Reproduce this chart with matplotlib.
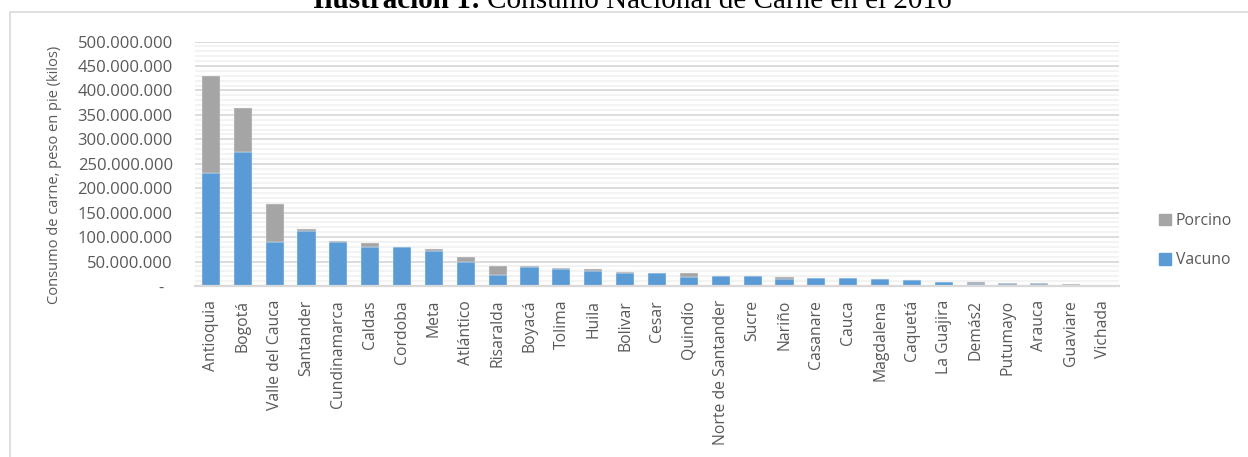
import numpy as np
import matplotlib
matplotlib.use("Agg")
import matplotlib.pyplot as plt
from matplotlib.patches import Rectangle, Patch
from matplotlib.ticker import MultipleLocator, FuncFormatter

# consumo por departamento, millones de kilos (peso en pie)
departamentos = ["Antioquia", "Bogotá", "Valle del Cauca", "Santander", "Cundinamarca",
                 "Caldas", "Cordoba", "Meta", "Atlántico", "Risaralda", "Boyacá", "Tolima",
                 "Huila", "Bolivar", "Cesar", "Quindío", "Norte de Santander", "Sucre",
                 "Nariño", "Casanare", "Cauca", "Magdalena", "Caquetá", "La Guajira",
                 "Demás2", "Putumayo", "Arauca", "Guaviare", "Vichada"]
vacuno = [232, 275, 89, 113, 89, 80, 80, 72, 50, 22.5, 39, 35.5, 31, 26.5, 26.5,
          18, 20.5, 21, 14, 16.5, 15.5, 14, 12, 8.5, 3.5, 5, 4.5, 2, 0.3]
porcino = [197, 90, 79, 4, 3, 8, 0.5, 4, 10, 19, 2, 2, 4, 1.5, 0.5,
           8, 0.5, 0.2, 5, 0.5, 0.8, 1, 1, 0.5, 4, 0.5, 1, 2, 0.2]

W, H = 1248, 457
gris_txt = "#595959"
fuente = "Open Sans"

fig = plt.figure(figsize=(W / 100, H / 100), dpi=100)
ax = fig.add_axes([195 / W, 1 - 286 / H, (1119 - 195) / W, (286 - 41.5) / H])

x = np.arange(len(departamentos))
v = np.array(vacuno) * 1e6
p = np.array(porcino) * 1e6
ax.bar(x, v, width=0.57, color="#5B9BD5", edgecolor="#EAF1FA", linewidth=0.3, zorder=3)
ax.bar(x, p, width=0.57, bottom=v, color="#A5A5A5", edgecolor="#EEEEEE", linewidth=0.3, zorder=3)

ax.set_xlim(-0.5, len(departamentos) - 0.5)
ax.set_ylim(0, 500e6)
ax.yaxis.set_major_locator(MultipleLocator(50e6))
ax.yaxis.set_minor_locator(MultipleLocator(10e6))
ax.yaxis.set_major_formatter(FuncFormatter(
    lambda val, pos: "-  " if val == 0 else f"{int(round(val)):,}".replace(",", ".")))
ax.grid(axis="y", which="minor", color="#F2F2F2", linewidth=1.3, zorder=0)
ax.grid(axis="y", which="major", color="#D9D9D9", linewidth=1.3, zorder=1)
ax.set_axisbelow(True)

for s in ["top", "right", "left"]:
    ax.spines[s].set_visible(False)
ax.spines["bottom"].set_color("#D9D9D9")
ax.spines["bottom"].set_linewidth(1.6)
ax.spines["bottom"].set_zorder(4)

ax.set_xticks(x)
ax.set_xticklabels(departamentos, rotation=90, fontsize=11.3, family=fuente, color=gris_txt)
ax.tick_params(axis="both", which="both", length=0)
ax.tick_params(axis="x", pad=10)
ax.tick_params(axis="y", pad=16)
for t in ax.get_yticklabels():
    t.set_fontsize(12)
    t.set_family(fuente)
    t.set_color(gris_txt)

fig.text(55 / W, 1 - 175 / H, "Consumo de carne, peso en pie (kilos)", rotation=90,
         ha="center", va="center", fontsize=10.5, family=fuente, color=gris_txt)

# leyenda
handles = [Patch(color="#A5A5A5", label="Porcino"), Patch(color="#5B9BD5", label="Vacuno")]
fig.legend(handles=handles, loc="center left", bbox_to_anchor=(1145 / W, 1 - 240.5 / H),
           frameon=False, handlelength=0.75, handleheight=0.75, handletextpad=0.3,
           labelspacing=1.5, prop={"family": fuente, "size": 11.3}, labelcolor=gris_txt)

# marco del grafico
fig.add_artist(Rectangle((10 / W, -0.5), 2, 1 - 12 / H + 0.5, transform=fig.transFigure,
                         fill=False, edgecolor="#D9D9D9", linewidth=1.2))

# titulo (parte en negrita + resto normal), recortado arriba como en el original
y_tit = 1 - 7.5 / H
t1 = fig.text(313 / W, y_tit, "Ilustración 1:", fontsize=21, weight="bold",
              family="Liberation Serif", ha="left", va="baseline")
fig.canvas.draw()
bb = t1.get_window_extent()
fig.text((bb.x1 + 6) / W, y_tit, "Consumo Nacional de Carne en el 2016", fontsize=21,
         family="Liberation Serif", ha="left", va="baseline")

fig.savefig("out.png", dpi=100)
